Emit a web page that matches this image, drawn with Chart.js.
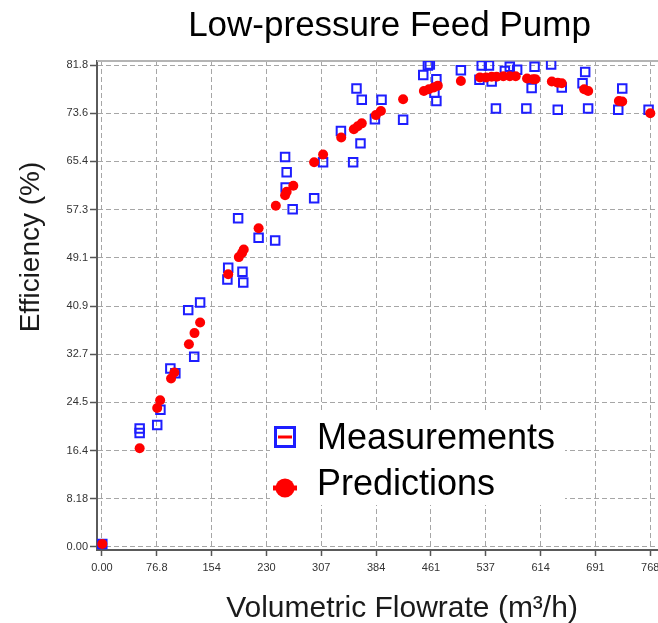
<!DOCTYPE html>
<html>
<head>
<meta charset="utf-8">
<title>Low-pressure Feed Pump</title>
<script src="https://cdn.jsdelivr.net/npm/chart.js@4.4.1/dist/chart.umd.min.js"></script>
<style>
  html, body { margin: 0; padding: 0; background: #fff; }
  body { width: 658px; height: 623px; overflow: hidden; position: relative; }
  #wrap { position: absolute; left: 0; top: 0; width: 690px; height: 623px; }
</style>
</head>
<body>
<div id="wrap"><canvas id="pump"></canvas></div>
<script>
// Measured operating points: volumetric flowrate (m³/h) and efficiency (%)
const measuredFlow = [0.5, 52.8, 52.8, 77.4, 81.9, 95.8, 102.8, 120.8, 137.5, 129.2,
  176.8, 175.7, 196.8, 197.9, 190.7, 219.4, 242.6, 256.5, 258.7, 257.3,
  267.1, 297.2, 309.7, 334.7, 351.8, 362.1, 356.5, 363.9, 391.6, 382.3,
  421.8, 456.5, 459.2, 450.0, 468.4, 465.7, 468.4, 502.7, 528.7, 531.9,
  542.0, 545.8, 564.3, 571.2, 581.5, 605.9, 601.8, 629.1, 644.0, 551.8,
  594.4, 638.4, 680.9, 676.8, 673.1, 728.7, 723.1, 765.6];
const measuredEff = [0.5, 20.1, 19.35, 20.7, 23.3, 30.3, 29.5, 40.2, 41.5, 32.3,
  47.4, 45.4, 46.7, 44.9, 55.8, 52.5, 52.0, 66.2, 63.6, 61.0,
  57.3, 59.2, 65.3, 70.6, 65.3, 68.5, 77.8, 75.9, 75.9, 72.6,
  72.5, 81.7, 81.9, 80.1, 79.4, 77.1, 75.7, 80.9, 79.3, 81.7,
  81.7, 79.0, 80.8, 81.5, 81.0, 81.5, 77.9, 81.9, 78.0, 74.4,
  74.4, 74.2, 74.4, 80.6, 78.7, 77.8, 74.2, 74.2];

// Model predictions
const predictedFlow = [0.5, 52.8, 81.5, 77.4, 96.8, 101.4, 121.8, 129.6, 137.5, 176.8,
  191.7, 196.2, 198.6, 219.4, 243.5, 256.5, 258.7, 268.0, 297.2, 309.7,
  335.1, 352.8, 358.3, 363.9, 383.7, 390.7, 421.8, 450.9, 457.9, 464.8,
  470.4, 502.7, 529.5, 537.9, 545.8, 552.7, 562.1, 571.2, 579.5, 595.4,
  603.7, 606.9, 630.1, 638.4, 644.0, 675.4, 681.0, 724.0, 728.7, 768.0];
const predictedEff = [0.5, 16.75, 24.9, 23.6, 28.6, 29.6, 34.4, 36.3, 38.1, 46.3,
  49.2, 49.9, 50.5, 54.1, 57.9, 59.7, 60.3, 61.3, 65.3, 66.6,
  69.5, 70.9, 71.4, 71.9, 73.3, 74.0, 76.0, 77.4, 77.7, 78.0,
  78.3, 79.1, 79.7, 79.7, 79.8, 79.8, 79.9, 79.9, 79.9, 79.5,
  79.4, 79.4, 79.0, 78.8, 78.7, 77.7, 77.4, 75.7, 75.6, 73.6];

// Axis ticks and their printed labels
const xTickValues = [0, 76.8, 153.6, 230.4, 307.2, 384, 460.8, 537.6, 614.4, 691.2, 768];
const xTickLabels = ['0.00', '76.8', '154', '230', '307', '384', '461', '537', '614', '691', '768'];
const yTickValues = [0, 8.18, 16.36, 24.54, 32.72, 40.9, 49.08, 57.26, 65.44, 73.62, 81.8];
const yTickLabels = ['0.00', '8.18', '16.4', '24.5', '32.7', '40.9', '49.1', '57.3', '65.4', '73.6', '81.8'];

const FONT = "'Liberation Sans', Arial, sans-serif";
Chart.defaults.font.family = FONT;

const toPoints = (xs, ys) => xs.map((x, i) => ({ x: x, y: ys[i] }));

// Light frame line along the top of the plot area
const topFrame = {
  id: 'topFrame',
  beforeDatasetsDraw(chart) {
    const { ctx, chartArea: a } = chart;
    ctx.save();
    ctx.strokeStyle = '#b4b4b4';
    ctx.lineWidth = 2;
    ctx.beginPath();
    ctx.moveTo(a.left, a.top);
    ctx.lineTo(a.right, a.top);
    ctx.stroke();
    ctx.restore();
  }
};

// Axis captions
const axisCaptions = {
  id: 'axisCaptions',
  afterDraw(chart) {
    const { ctx, chartArea: a } = chart;
    ctx.save();
    ctx.fillStyle = '#1a1a1a';
    ctx.textAlign = 'center';
    ctx.textBaseline = 'middle';
    ctx.font = '30px ' + FONT;
    ctx.fillText('Volumetric Flowrate (m³/h)', a.left + 305, a.bottom + 59);
    ctx.translate(31, a.top + 186);
    ctx.rotate(-Math.PI / 2);
    ctx.font = '28px ' + FONT;
    ctx.fillText('Efficiency (%)', 0, 0);
    ctx.restore();
  }
};

// Legend box placed inside the plot area
const insetLegend = {
  id: 'insetLegend',
  afterDraw(chart) {
    const { ctx, chartArea: a } = chart;
    const ds = chart.data.datasets;
    const bx = a.left + 173, by = a.top + 352;
    ctx.save();
    ctx.fillStyle = '#ffffff';
    ctx.fillRect(bx, by, 295, 92);

    // Measurements entry: open square with a line through it
    const mx = bx + 15, my1 = by + 24, my2 = by + 75;
    ctx.strokeStyle = ds[0].borderColor;
    ctx.lineWidth = 3;
    ctx.strokeRect(mx - 9.5, my1 - 9.5, 19, 19);
    ctx.strokeStyle = ds[1].backgroundColor;
    ctx.beginPath();
    ctx.moveTo(mx - 7, my1);
    ctx.lineTo(mx + 7, my1);
    ctx.stroke();

    // Predictions entry: filled dot
    ctx.fillStyle = ds[1].backgroundColor;
    ctx.beginPath();
    ctx.arc(mx, my2, 9.5, 0, Math.PI * 2);
    ctx.fill();
    ctx.strokeStyle = ds[1].backgroundColor;
    ctx.lineWidth = 5;
    ctx.beginPath();
    ctx.moveTo(mx - 12, my2);
    ctx.lineTo(mx + 12, my2);
    ctx.stroke();

    ctx.fillStyle = '#000000';
    ctx.font = '36px ' + FONT;
    ctx.textAlign = 'left';
    ctx.textBaseline = 'alphabetic';
    ctx.fillText(ds[0].label, bx + 47, by + 36);
    ctx.fillText(ds[1].label, bx + 47, by + 82);
    ctx.restore();
  }
};

const gridStyle = {
  color: '#a6a6a6',
  lineWidth: 1,
  tickColor: '#555555',
  tickWidth: 1.5,
  tickBorderDash: []
};

new Chart(document.getElementById('pump'), {
  type: 'scatter',
  data: {
    datasets: [
      {
        label: 'Measurements',
        data: toPoints(measuredFlow, measuredEff),
        pointStyle: 'rect',
        pointRadius: 6,
        pointHoverRadius: 6,
        borderWidth: 2,
        borderColor: '#1e1eff',
        backgroundColor: 'rgba(0,0,0,0)',
        clip: 0,
        order: 2
      },
      {
        label: 'Predictions',
        data: toPoints(predictedFlow, predictedEff),
        pointStyle: 'circle',
        pointRadius: 5,
        pointHoverRadius: 5,
        borderWidth: 0,
        borderColor: '#ff0000',
        backgroundColor: '#ff0000',
        clip: 0,
        order: 1
      }
    ]
  },
  options: {
    responsive: true,
    maintainAspectRatio: false,
    animation: false,
    events: [],
    layout: { padding: { left: 0, right: 3, top: 0, bottom: 0 } },
    plugins: {
      legend: { display: false },
      tooltip: { enabled: false },
      title: {
        display: true,
        fullSize: false,
        text: 'Low-pressure Feed Pump',
        color: '#000000',
        font: { size: 35, weight: 'normal', lineHeight: 1.2 },
        padding: { top: 5, bottom: 14 }
      }
    },
    scales: {
      x: {
        type: 'linear',
        position: 'bottom',
        min: -6.94,
        max: 812.4,
        afterBuildTicks: s => { s.ticks = xTickValues.map(v => ({ value: v })); },
        afterFit: s => { s.height = 73; },
        ticks: {
          autoSkip: false,
          maxRotation: 0,
          padding: 5,
          color: '#333333',
          font: { size: 11 },
          callback: (v, i) => xTickLabels[i]
        },
        grid: Object.assign({ tickLength: 6 }, gridStyle),
        border: { display: true, color: '#5a5a5a', width: 2, dash: [5, 3] },
        title: { display: false }
      },
      y: {
        type: 'linear',
        min: -0.51,
        max: 82.48,
        afterBuildTicks: s => { s.ticks = yTickValues.map(v => ({ value: v })); },
        afterFit: s => { s.width = 97; },
        ticks: {
          autoSkip: false,
          padding: 2,
          color: '#333333',
          font: { size: 11 },
          callback: (v, i) => yTickLabels[i]
        },
        grid: Object.assign({ tickLength: 7 }, gridStyle),
        border: { display: true, color: '#5a5a5a', width: 2, dash: [5, 3] },
        title: { display: false }
      }
    }
  },
  plugins: [topFrame, axisCaptions, insetLegend]
});
</script>
</body>
</html>
